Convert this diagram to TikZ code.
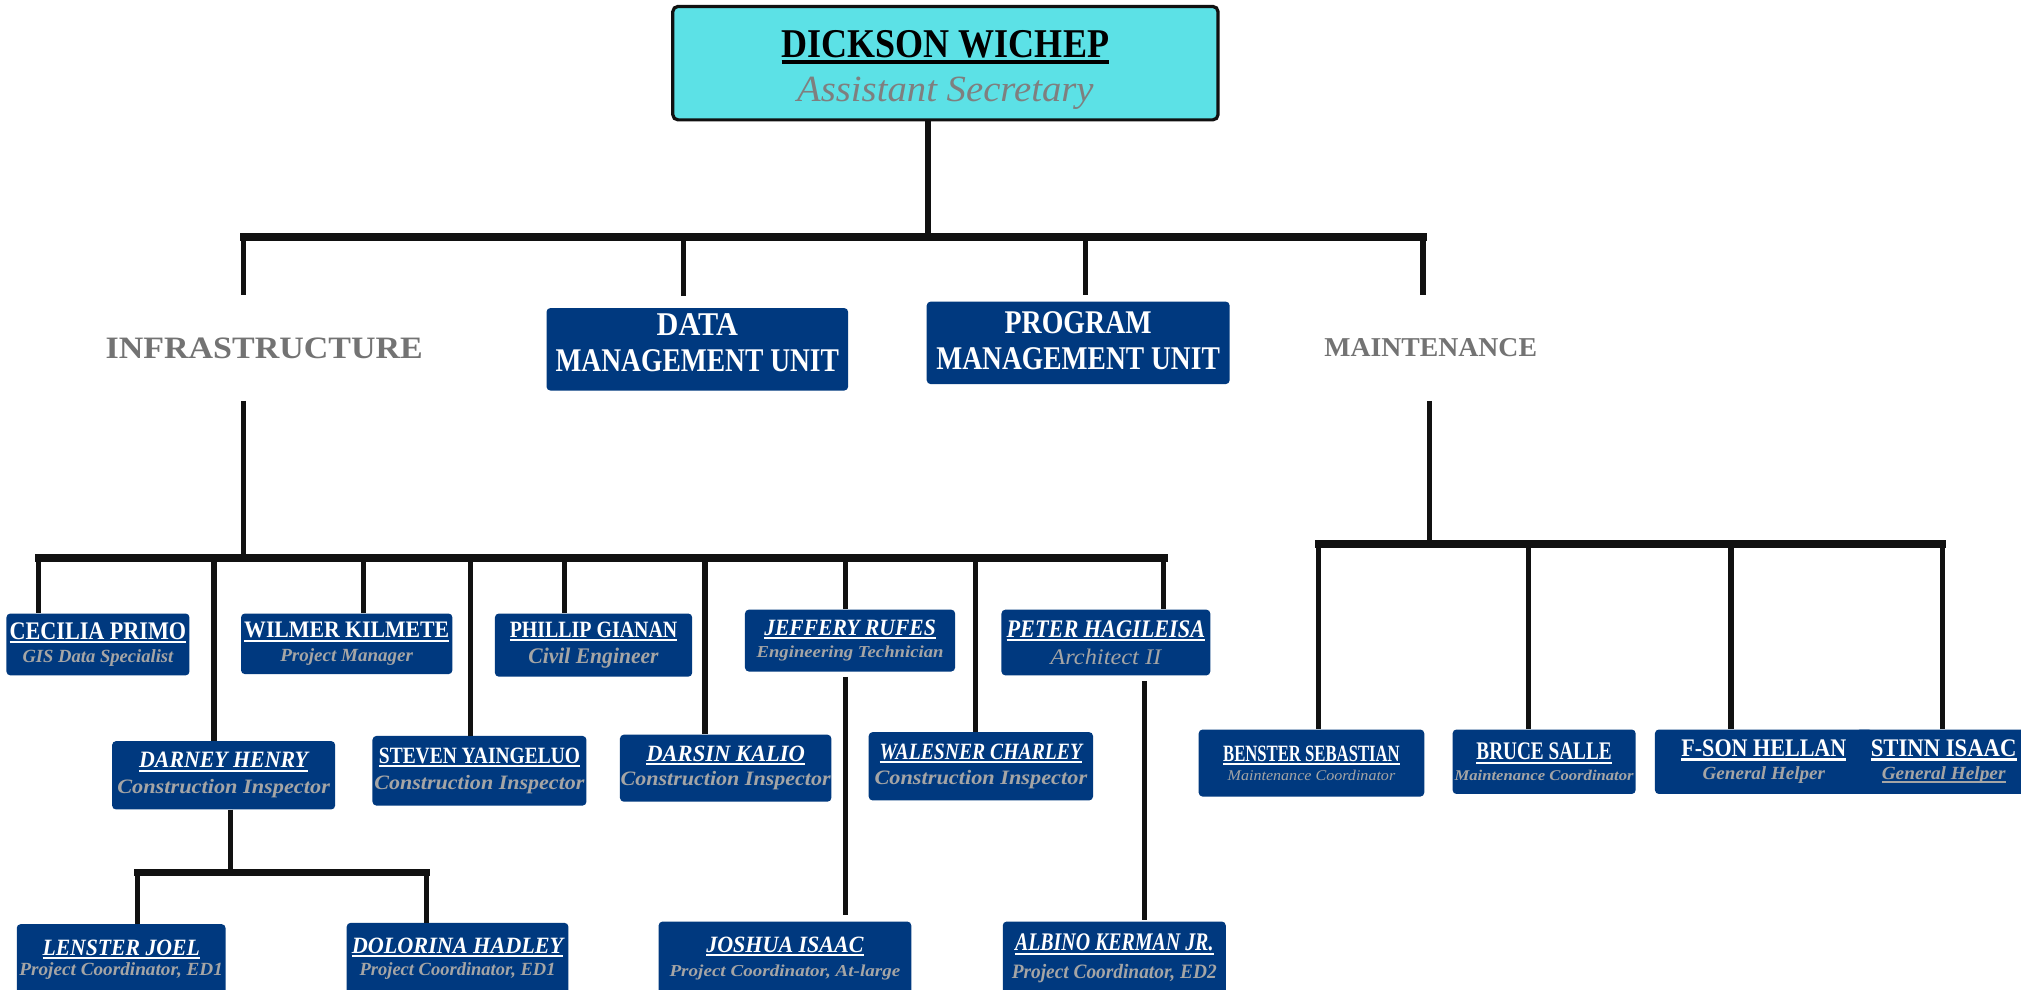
\documentclass[tikz,border=0pt]{standalone}
\usepackage{fontspec}
\setmainfont{Liberation Serif}[FakeStretch=0.88]
\newfontfamily\widefont{Liberation Serif}
\usepackage{graphicx}
\definecolor{cyanbox}{HTML}{5CE1E6}
\definecolor{navy}{HTML}{00397F}
\definecolor{subg}{HTML}{A5A5A5}
\definecolor{headg}{HTML}{737373}
\definecolor{topg}{HTML}{7F7F7F}
\definecolor{lin}{HTML}{111111}
\newsavebox\ulbox
\newcommand\myul[1]{\leavevmode\sbox\ulbox{#1}\rlap{\rule[-0.16em]{\wd\ulbox}{0.09em}}\usebox\ulbox}
\newcommand\Nu[3]{\resizebox{#1pt}{#2pt}{\bfseries\myul{#3}}}
\newcommand\Ni[3]{\resizebox{#1pt}{#2pt}{\bfseries\itshape\myul{#3}}}
\newcommand\Sb[3]{\resizebox{#1pt}{#2pt}{\color{subg}\bfseries\itshape #3}}
\newcommand\Sr[3]{\resizebox{#1pt}{#2pt}{\color{subg}\itshape #3}}
\newcommand\Db[3]{\resizebox{#1pt}{#2pt}{\bfseries #3}}
\tikzset{
  pbx/.style={fill=navy, text=white, rounded corners=3pt, inner sep=0pt, align=center},
  conn/.style={draw=lin, line width=4pt},
  barl/.style={draw=lin, line width=6pt, line cap=rect},
}
\newcommand\pbox[8]{\node[pbx, minimum width={(#4-#2)*1pt}, minimum height={(#5-#3)*1pt}, font=\fontsize{10}{#6}\selectfont] (#1) at ({(#2+#4)/2},{(#3+#5)/2}) {#7\\#8};}
\begin{document}
\begin{tikzpicture}[x=1pt,y=-1pt]
\useasboundingbox (0,0) rectangle (1568,768);
\clip (0,0) rectangle (1568,768);
\fill[white] (0,0) rectangle (1568,768);

% top box
\node[draw=lin, line width=2.5pt, fill=cyanbox, rounded corners=4pt, minimum width=423pt, minimum height=88pt, inner sep=0pt, align=center, font=\fontsize{10}{34}\selectfont] (top) at (733.5,49)
  {\rule{0pt}{31pt}\resizebox{254pt}{21pt}{\bfseries\myul{DICKSON WICHEP}}\\\resizebox{230pt}{19pt}{\color{topg}\widefont\itshape Assistant Secretary}};

% second level
\node[inner sep=0pt, text=headg] (infra) at (205,270) {\resizebox{246pt}{16pt}{\widefont\bfseries INFRASTRUCTURE}};
\node[inner sep=0pt, text=headg] (maint) at (1110,270) {\resizebox{165pt}{14pt}{\widefont\bfseries MAINTENANCE}};
\pbox{data}{424}{239}{658}{303}{28}{\Db{63}{17}{DATA}}{\Db{220}{17}{MANAGEMENT UNIT}\rule[-11pt]{0pt}{11pt}}
\pbox{program}{719}{234}{954}{298}{28}{\Db{114}{17}{PROGRAM}}{\Db{220}{17}{MANAGEMENT UNIT}\rule[-3pt]{0pt}{3pt}}

% infrastructure staff
\pbox{cecilia}{5}{476}{147}{524}{18}{\Nu{137}{13}{CECILIA PRIMO}}{\Sb{117}{10}{GIS Data Specialist}}
\pbox{wilmer}{187}{476}{351}{523}{18}{\Nu{159}{12}{WILMER KILMETE}}{\Sb{103}{10}{Project Manager}}
\pbox{phillip}{384}{476}{537}{525}{20}{\Nu{130}{12}{PHILLIP GIANAN}}{\Sb{101}{12}{Civil Engineer}}
\pbox{jeffery}{578}{473}{741}{521}{17}{\Ni{133}{12}{JEFFERY RUFES}}{\Sb{145}{9}{Engineering Technician}}
\pbox{peter}{777}{473}{939}{524}{21}{\Ni{154}{13}{PETER HAGILEISA}}{\Sr{86}{12}{Architect II}}
\pbox{darney}{87}{575}{260}{628}{20}{\Ni{131}{12}{DARNEY HENRY}}{\Sb{165}{11}{Construction Inspector}}
\pbox{steven}{289}{571}{455}{625}{20}{\Nu{156}{12}{STEVEN YAINGELUO}}{\Sb{163}{11}{Construction Inspector}}
\pbox{darsin}{481}{570}{645}{622}{19}{\Ni{123}{12}{DARSIN KALIO}}{\Sb{163}{11}{Construction Inspector}}
\pbox{walesner}{674}{568}{848}{621}{19}{\Ni{157}{12}{WALESNER CHARLEY}}{\Sb{165}{11}{Construction Inspector}}
\pbox{lenster}{13}{717}{175}{772}{16}{\Ni{122}{12}{LENSTER JOEL}}{\Sb{158}{10}{Project Coordinator, ED1}}
\pbox{dolorina}{269}{716}{441}{772}{17}{\Ni{164}{12}{DOLORINA HADLEY}}{\Sb{152}{10}{Project Coordinator, ED1}}
\pbox{joshua}{511}{715}{707}{772}{19}{\Ni{122}{12}{JOSHUA ISAAC}}{\Sb{179}{9}{Project Coordinator, At-large}}
\pbox{albino}{778}{715}{951}{772}{21}{\Ni{154}{13}{ALBINO KERMAN JR.}}{\Sb{159}{11}{Project Coordinator, ED2}}

% maintenance staff
\pbox{benster}{930}{566}{1105}{618}{15}{\Nu{137}{12}{BENSTER SEBASTIAN}}{\Sr{130}{8}{Maintenance Coordinator}}
\pbox{bruce}{1127}{566}{1269}{616}{16}{\Nu{105}{13}{BRUCE SALLE}}{\Sb{139}{8}{Maintenance Coordinator}}
\pbox{fson}{1284}{566}{1453}{616}{18}{\Nu{128}{13}{F-SON HELLAN}}{\Sb{95}{10}{General Helper}}
\pbox{stinn}{1440}{566}{1576}{616}{18}{\Nu{113}{13}{STINN ISAAC}}{\Sb{96}{10}{\myul{General Helper}}}

% ---- connectors ----
% top level
\coordinate (tj) at (720,184);
\draw[conn] (top.south -| tj) -- (tj);
\coordinate (tb1) at (189,184);
\coordinate (tb2) at (530,184);
\coordinate (tb3) at (842,184);
\coordinate (tb4) at (1104,184);
\draw[barl] (tb1) -- (tb4);
\coordinate (te1) at (189,229);
\coordinate (te4) at (1104,229);
\draw[conn] (tb1) -- (te1);
\draw[conn, shorten >=9pt] (tb2) -- (tb2 |- data.north);
\draw[conn, shorten >=5pt] (tb3) -- (tb3 |- program.north);
\draw[conn] (tb4) -- (te4);

% infrastructure
\coordinate (i0) at (189,311);
\coordinate (ib) at (189,433);
\draw[conn] (i0) -- (ib);
\coordinate (ibl) at (30,433);
\coordinate (ibr) at (903,433);
\draw[barl] (ibl) -- (ibr);
\foreach \x/\n in {30/cecilia,166/darney,282/wilmer,365/steven,438/phillip,547/darsin,656/jeffery,757/walesner,903/peter}{
  \coordinate (ib-\n) at (\x,433);
  \draw[conn] (ib-\n) -- (ib-\n |- \n.north);
}
\coordinate (jx) at (656,0);
\draw[conn, shorten <=4pt, shorten >=5pt] (jeffery.south -| jx) -- (joshua.north -| jx);
\coordinate (px) at (888,0);
\draw[conn, shorten <=4pt, shorten >=1pt] (peter.south -| px) -- (albino.north -| px);

% darney's team
\coordinate (dj) at (179,677);
\draw[conn] (darney.south -| dj) -- (dj);
\coordinate (dl) at (107,677);
\coordinate (dr) at (331,677);
\draw[barl] (dl) -- (dr);
\draw[conn] (dl) -- (dl |- lenster.north);
\draw[conn] (dr) -- (dr |- dolorina.north);

% maintenance
\coordinate (m0) at (1109,311);
\coordinate (mj) at (1109,422);
\draw[conn] (m0) -- (mj);
\coordinate (mbl) at (1023,422);
\coordinate (mbr) at (1507,422);
\draw[barl] (mbl) -- (mbr);
\foreach \x/\n in {1023/benster,1186/bruce,1343/fson,1507/stinn}{
  \coordinate (mb-\n) at (\x,422);
  \draw[conn] (mb-\n) -- (mb-\n |- \n.north);
}
\end{tikzpicture}
\end{document}
